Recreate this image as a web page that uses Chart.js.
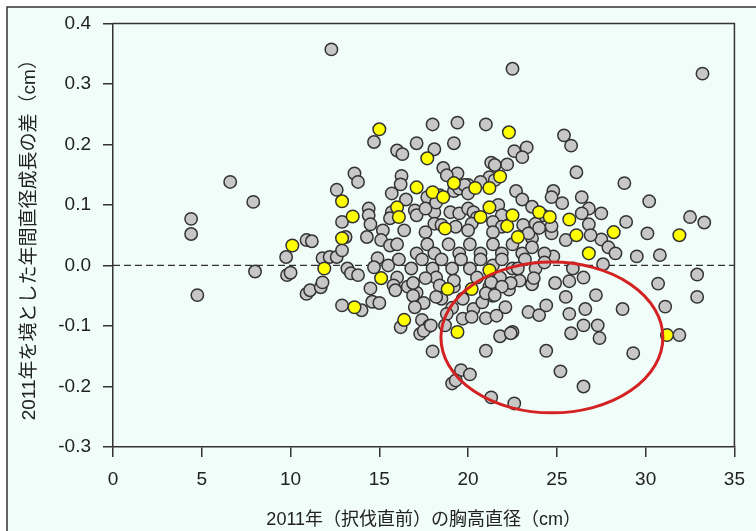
<!DOCTYPE html>
<html>
<head>
<meta charset="utf-8">
<script src="https://cdn.jsdelivr.net/npm/chart.js@4"></script>
<style>
  body { margin: 0; background: #fff; }
  #wrap { width: 756px; height: 531px; }
</style>
</head>
<body>
<div id="wrap"><canvas id="myChart" width="756" height="531"></canvas></div>
<script>
// tick values
const xTicks = [0, 5, 10, 15, 20, 25, 30, 35];
const yTicks = [-0.3, -0.2, -0.1, 0.0, 0.1, 0.2, 0.3, 0.4];

const xTitle = "2011年（択伐直前）の胸高直径（cm）";
const yTitle = "2011年を境とした年間直径成長の差（cm）";

// highlighted trees (yellow)
const yellowPoints = [
  [10.1, 0.033], [11.9, -0.005], [12.9, 0.106], [12.9, 0.045], [13.5, 0.081], [13.6, -0.069],
  [15.0, 0.225], [15.1, -0.021], [16.0, 0.096], [16.1, 0.08], [16.4, -0.09], [17.1, 0.129],
  [17.7, 0.177], [18.0, 0.121], [18.6, 0.113], [19.2, 0.136], [18.7, 0.061], [18.85, -0.039],
  [19.4, -0.11], [20.4, 0.128], [20.7, 0.08], [21.2, 0.128], [21.2, 0.096], [21.8, 0.147],
  [22.3, 0.22], [22.2, 0.065], [22.5, 0.083], [22.8, 0.047], [21.2, -0.008], [20.2, -0.039],
  [24.0, 0.088], [24.6, 0.08], [25.7, 0.076], [26.1, 0.05], [26.8, 0.02], [28.2, 0.055],
  [31.2, -0.115], [31.9, 0.05]
];

// all other trees (gray)
const grayPoints = [
  [4.4, 0.077], [4.4, 0.052], [4.75, -0.049], [6.6, 0.138], [7.9, 0.105], [8.0, -0.01],
  [9.75, 0.014], [9.8, -0.016], [10.0, -0.012], [10.9, 0.042], [11.2, 0.04], [10.9, -0.047],
  [11.1, -0.041], [11.7, -0.036], [11.8, -0.028], [11.8, 0.012], [12.2, 0.014], [12.6, 0.014],
  [12.9, 0.025], [12.3, 0.357], [12.6, 0.125], [12.9, 0.072], [13.1, 0.047], [13.2, -0.005],
  [13.4, -0.013], [13.8, -0.016], [12.9, -0.066], [14.0, -0.074], [13.6, 0.152], [13.8, 0.138],
  [14.3, 0.047], [14.4, 0.094], [14.4, 0.083], [14.5, 0.068], [14.7, 0.204], [14.5, -0.038],
  [14.6, -0.06], [15.0, -0.062], [14.9, 0.012], [14.7, -0.003], [15.2, 0.058], [15.1, 0.042],
  [15.6, 0.033], [15.5, 0.0], [15.7, 0.119], [15.7, 0.088], [15.6, 0.078],
  [16.0, 0.19], [16.3, 0.184], [17.1, 0.202], [18.1, 0.192], [19.2, 0.202], [18.0, 0.233],
  [19.4, 0.236], [21.0, 0.233], [22.5, 0.325], [33.2, 0.317], [25.4, 0.215], [25.8, 0.198],
  [22.6, 0.189], [23.3, 0.195], [23.05, 0.179], [21.3, 0.17], [21.5, 0.166], [22.2, 0.167],
  [26.1, 0.154], [28.8, 0.136], [18.6, 0.161], [19.4, 0.152], [18.8, 0.149], [16.25, 0.148],
  [16.2, 0.134], [16.5, 0.109], [20.0, 0.133], [19.2, 0.123], [19.5, 0.127], [17.9, 0.113],
  [22.7, 0.123], [23.05, 0.109], [24.8, 0.123], [24.7, 0.113], [25.3, 0.103], [26.4, 0.113],
  [30.2, 0.106], [32.5, 0.08], [33.3, 0.071], [30.1, 0.053], [30.8, 0.017], [29.5, 0.015],
  [28.9, 0.072], [27.5, 0.086], [26.8, 0.094], [26.4, 0.086], [26.8, 0.068], [27.5, 0.043],
  [27.9, 0.03], [28.3, 0.02], [25.5, 0.042], [24.7, 0.053], [24.7, 0.065], [23.6, 0.045],
  [24.8, 0.015], [26.9, 0.05], [21.2, 0.146], [21.5, 0.141], [19.8, 0.133], [20.7, 0.138],
  [20.0, 0.119], [17.7, 0.113], [18.4, 0.116], [17.0, 0.091], [17.1, 0.083], [18.1, 0.088],
  [19.0, 0.088], [19.5, 0.086], [20.0, 0.094], [20.3, 0.088], [20.5, 0.079], [21.7, 0.1],
  [21.9, 0.083], [23.6, 0.097], [24.2, 0.083], [18.1, 0.069], [18.5, 0.067], [19.3, 0.064],
  [20.2, 0.069], [21.4, 0.072], [21.9, 0.064], [23.1, 0.067], [23.8, 0.069], [17.6, 0.094],
  [18.2, 0.104], [16.4, 0.058], [17.6, 0.055], [20.0, 0.058], [21.4, 0.055], [23.4, 0.053],
  [24.0, 0.062], [16.0, 0.035], [17.1, 0.02], [17.7, 0.035], [18.1, 0.02], [18.9, 0.035],
  [19.5, 0.02], [20.1, 0.035], [20.7, 0.02], [21.4, 0.035], [21.9, 0.02], [22.5, 0.035],
  [23.05, 0.02], [23.6, 0.03], [24.3, 0.02], [16.1, 0.01], [16.8, -0.005], [17.4, 0.01],
  [18.0, -0.005], [18.5, 0.01], [19.1, -0.005], [19.6, 0.01], [20.1, -0.005], [20.7, 0.01],
  [21.4, 0.0], [21.9, 0.01], [22.5, -0.005], [23.2, 0.01], [23.8, -0.005], [24.3, 0.005],
  [16.0, -0.02], [16.6, -0.035], [17.1, -0.045], [18.2, -0.02], [19.2, -0.035], [20.5, -0.02],
  [21.2, -0.035], [21.8, -0.02], [22.3, -0.04], [22.9, -0.025], [23.6, -0.03], [16.9, -0.05],
  [17.5, -0.062], [18.5, -0.055], [19.1, -0.07], [19.7, -0.055], [20.3, -0.072], [20.8, -0.061],
  [21.4, -0.05], [22.1, -0.069], [23.4, -0.077], [24.0, -0.082], [17.4, -0.09], [17.8, -0.1],
  [18.8, -0.08], [19.7, -0.088], [20.2, -0.085], [21.0, -0.087], [21.6, -0.083], [22.5, -0.11],
  [24.4, -0.066], [25.5, -0.052], [27.2, -0.049], [25.7, -0.08], [26.6, -0.072], [28.7, -0.072],
  [26.5, -0.099], [27.3, -0.099], [27.4, -0.12], [25.8, -0.112], [21.8, -0.117], [22.4, -0.112],
  [21.0, -0.141], [24.4, -0.141], [29.3, -0.145], [25.2, -0.175], [26.5, -0.2], [21.3, -0.218],
  [22.6, -0.228], [19.6, -0.173], [20.1, -0.18], [19.1, -0.195], [19.3, -0.19], [30.7, -0.03],
  [31.1, -0.068], [31.9, -0.115], [32.9, -0.015], [32.9, -0.052], [22.4, -0.029], [23.6, -0.031],
  [24.9, -0.029], [25.7, -0.026], [26.5, -0.02], [25.9, -0.005], [27.6, 0.002], [18.0, -0.142],
  [17.3, -0.113], [17.5, -0.108], [17.9, -0.099], [16.2, -0.102], [17.0, -0.069], [18.7, -0.099],
  [15.8, -0.033], [15.9, -0.041], [16.9, -0.029], [17.6, -0.021], [18.4, -0.033], [18.2, -0.052],
  [19.2, -0.025], [21.3, -0.028], [21.9, -0.035], [21.0, -0.046], [21.5, -0.049], [22.8, -0.005],
  [23.7, -0.021]
];

// red ellipse marking the group of interest (data units)
const ellipseCenter = [24.72, -0.119];
const ellipseRadius = [6.25, 0.1246];

const toXY = (p) => ({ x: p[0], y: p[1] });
const ink = "#333";
const bg = "rgb(240,253,249)";

// page frame, box around plot, ellipse
const framePlugin = {
  id: "frame",
  beforeDraw(chart) {
    const c = chart.ctx;
    c.save();
    c.fillStyle = "#fff";
    c.fillRect(0, 0, chart.width, chart.height);
    c.fillStyle = bg;
    c.fillRect(7, 7, chart.width, chart.height);
    c.strokeStyle = ink;
    c.lineWidth = 1.5;
    c.beginPath();
    c.moveTo(7, chart.height);
    c.lineTo(7, 7);
    c.lineTo(chart.width, 7);
    c.stroke();
    c.restore();
  },
  afterDatasetsDraw(chart) {
    const c = chart.ctx;
    const a = chart.chartArea;
    const xs = chart.scales.x;
    const ys = chart.scales.y;
    c.save();
    const cx = xs.getPixelForValue(ellipseCenter[0]);
    const cy = ys.getPixelForValue(ellipseCenter[1]);
    const rx = Math.abs(xs.getPixelForValue(ellipseCenter[0] + ellipseRadius[0]) - cx);
    const ry = Math.abs(ys.getPixelForValue(ellipseCenter[1] + ellipseRadius[1]) - cy);
    c.strokeStyle = "#d42222";
    c.lineWidth = 3;
    c.beginPath();
    c.ellipse(cx, cy, rx, ry, 0, 0, Math.PI * 2);
    c.stroke();
    // top and right of the box
    c.strokeStyle = ink;
    c.lineWidth = 1.5;
    c.beginPath();
    c.moveTo(a.left, a.top);
    c.lineTo(a.right, a.top);
    c.lineTo(a.right, a.bottom);
    c.stroke();
    c.restore();
  },
};

const tickFont = { family: "'Liberation Sans', Arial, sans-serif", size: 19 };
const titleFamily = "'Liberation Sans', 'Noto Sans CJK JP', sans-serif";

new Chart(document.getElementById("myChart"), {
  type: "scatter",
  data: {
    datasets: [
      {
        data: yellowPoints.map(toXY),
        backgroundColor: "#ffff00",
        borderColor: ink,
        borderWidth: 1.5,
        pointRadius: 6.3,
      },
      {
        data: grayPoints.map(toXY),
        backgroundColor: "#c8c7c8",
        borderColor: ink,
        borderWidth: 1.5,
        pointRadius: 6.2,
      },
      {
        type: "line",
        data: [{ x: xTicks[0], y: 0 }, { x: xTicks[xTicks.length - 1], y: 0 }],
        borderColor: ink,
        borderWidth: 1.3,
        borderDash: [7, 4],
        pointRadius: 0,
      },
    ],
  },
  options: {
    responsive: false,
    animation: false,
    layout: { padding: { left: 0, top: 23, right: 10, bottom: 0 } },
    plugins: { legend: { display: false }, tooltip: { enabled: false } },
    scales: {
      x: {
        type: "linear",
        min: xTicks[0],
        max: xTicks[xTicks.length - 1],
        afterBuildTicks: (s) => { s.ticks = xTicks.map((v) => ({ value: v })); },
        afterFit: (s) => { s.height = 84; },
        ticks: { font: tickFont, color: "#222", padding: 11, maxRotation: 0, callback: (v) => String(v) },
        grid: { drawOnChartArea: false, drawTicks: true, tickLength: 10, color: ink, lineWidth: 1.5 },
        border: { display: true, color: ink, width: 1.5 },
        title: { display: true, text: xTitle, color: "#222", font: { family: titleFamily, size: 18 }, padding: { top: 0, bottom: 0 } },
      },
      y: {
        type: "linear",
        min: yTicks[0],
        max: yTicks[yTicks.length - 1],
        afterBuildTicks: (s) => { s.ticks = yTicks.map((v) => ({ value: v })); },
        afterFit: (s) => { s.width = 113; },
        ticks: { font: tickFont, color: "#222", padding: 12, callback: (v) => v.toFixed(1) },
        grid: { drawOnChartArea: false, drawTicks: true, tickLength: 10, color: ink, lineWidth: 1.5 },
        border: { display: true, color: ink, width: 1.5 },
        title: { display: true, text: yTitle, color: "#222", font: { family: titleFamily, size: 19 }, padding: { top: 18, bottom: 0 } },
      },
    },
  },
  plugins: [framePlugin],
});
</script>
</body>
</html>
